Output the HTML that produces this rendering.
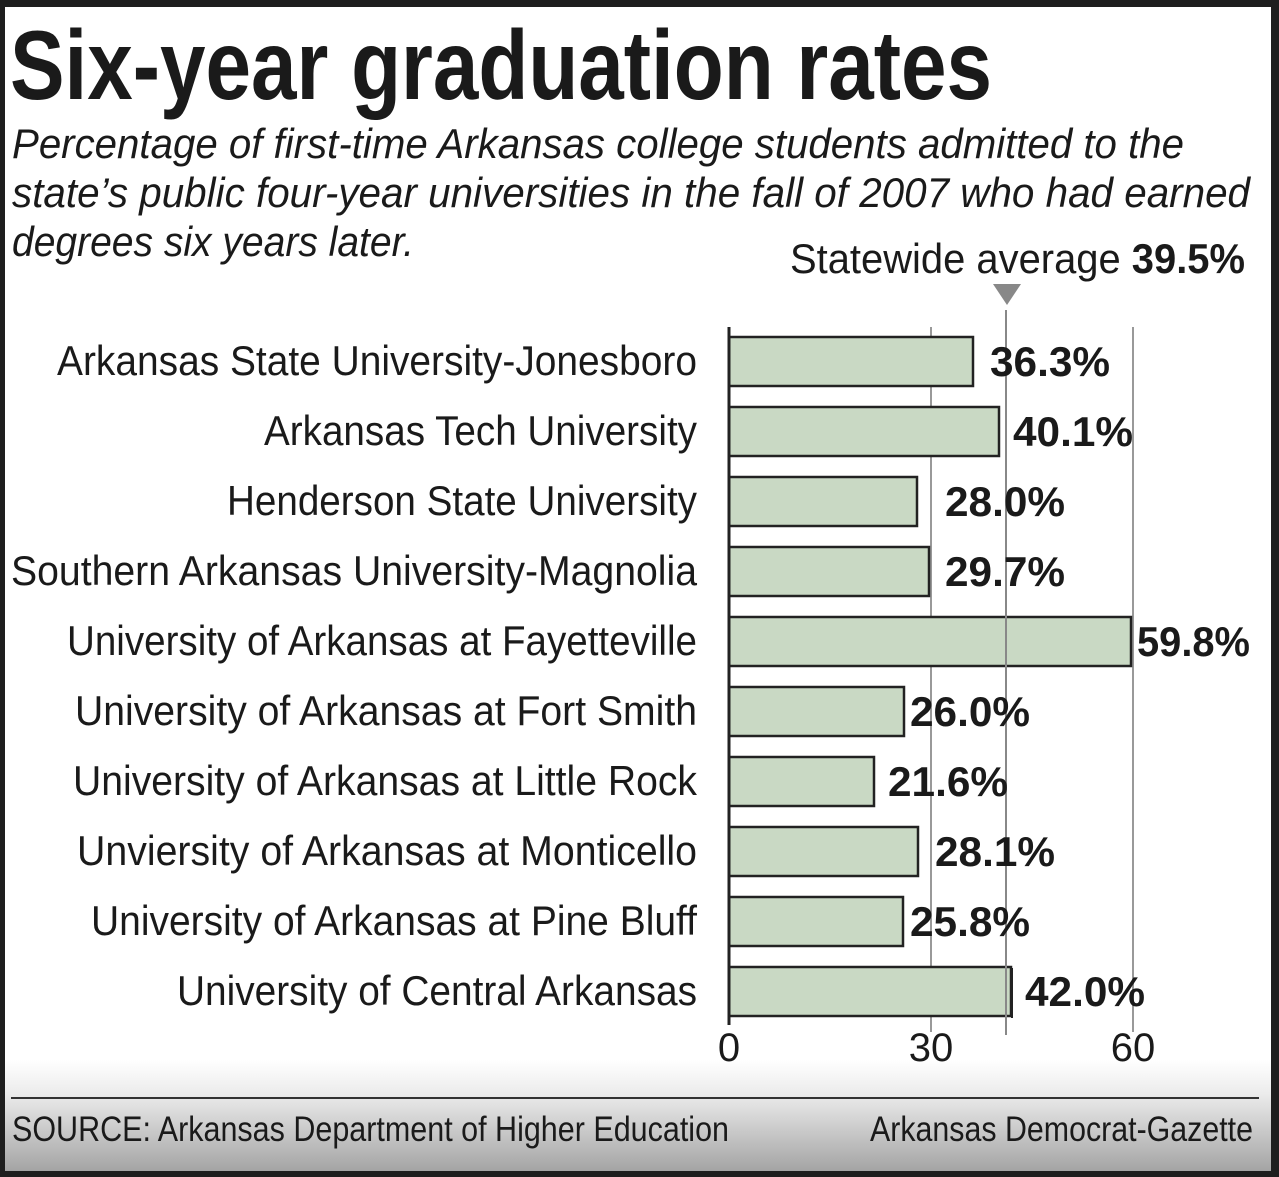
<!DOCTYPE html>
<html><head><meta charset="utf-8"><style>
html,body{margin:0;padding:0;background:#1e1e1e;}
svg{display:block}
text{font-family:"Liberation Sans",sans-serif;fill:#1a1a1a}
</style></head><body>
<svg width="1279" height="1177" viewBox="0 0 1279 1177" xmlns="http://www.w3.org/2000/svg">
<defs><linearGradient id="g" x1="0" y1="0" x2="0" y2="1">
<stop offset="0" stop-color="#fff"/><stop offset="0.3" stop-color="#ececec"/><stop offset="1" stop-color="#a4a4a4"/></linearGradient></defs>
<rect x="0" y="0" width="1279" height="1177" fill="#1e1e1e"/>
<rect x="5" y="7" width="1266" height="1164" fill="#fff"/>
<rect x="5" y="1060" width="1266" height="111" fill="url(#g)"/>
<text x="10" y="99" font-size="98" font-weight="bold" textLength="982" lengthAdjust="spacingAndGlyphs">Six-year graduation rates</text>
<g font-size="42" font-style="italic">
<text x="12" y="158" textLength="1172" lengthAdjust="spacingAndGlyphs">Percentage of first-time Arkansas college students admitted to the</text>
<text x="12" y="207" textLength="1238" lengthAdjust="spacingAndGlyphs">state’s public four-year universities in the fall of 2007 who had earned</text>
<text x="12" y="256" textLength="402" lengthAdjust="spacingAndGlyphs">degrees six years later.</text>
</g>
<text x="790" y="273" font-size="42" textLength="455" lengthAdjust="spacingAndGlyphs">Statewide average <tspan font-weight="bold">39.5%</tspan></text>
<polygon points="993,284 1021,284 1007,305" fill="#888"/>
<g stroke="#999" stroke-width="2">
<line x1="931" y1="327" x2="931" y2="1032"/>
<line x1="1133" y1="327" x2="1133" y2="1032"/>
</g>
<g fill="#c9d9c4" stroke="#222" stroke-width="2.5">
<rect x="729" y="337" width="244" height="49"/>
<rect x="729" y="407" width="270" height="49"/>
<rect x="729" y="477" width="188" height="49"/>
<rect x="729" y="547" width="200" height="49"/>
<rect x="729" y="617" width="402" height="49"/>
<rect x="729" y="687" width="175" height="49"/>
<rect x="729" y="757" width="145" height="49"/>
<rect x="729" y="827" width="189" height="49"/>
<rect x="729" y="897" width="174" height="49"/>
<rect x="729" y="967" width="282" height="49"/>
</g>
<line x1="1006" y1="310" x2="1006" y2="1035" stroke="#888" stroke-width="2"/>
<line x1="1012" y1="968" x2="1012" y2="1018" stroke="#222" stroke-width="2"/>
<line x1="729" y1="327" x2="729" y2="1025" stroke="#222" stroke-width="3"/>
<g font-size="42" text-anchor="end">
<text x="697" y="375" textLength="640" lengthAdjust="spacingAndGlyphs">Arkansas State University-Jonesboro</text>
<text x="697" y="445" textLength="433" lengthAdjust="spacingAndGlyphs">Arkansas Tech University</text>
<text x="697" y="515" textLength="470" lengthAdjust="spacingAndGlyphs">Henderson State University</text>
<text x="697" y="585" textLength="686" lengthAdjust="spacingAndGlyphs">Southern Arkansas University-Magnolia</text>
<text x="697" y="655" textLength="630" lengthAdjust="spacingAndGlyphs">University of Arkansas at Fayetteville</text>
<text x="697" y="725" textLength="622" lengthAdjust="spacingAndGlyphs">University of Arkansas at Fort Smith</text>
<text x="697" y="795" textLength="624" lengthAdjust="spacingAndGlyphs">University of Arkansas at Little Rock</text>
<text x="697" y="865" textLength="620" lengthAdjust="spacingAndGlyphs">Unviersity of Arkansas at Monticello</text>
<text x="697" y="935" textLength="606" lengthAdjust="spacingAndGlyphs">University of Arkansas at Pine Bluff</text>
<text x="697" y="1005" textLength="520" lengthAdjust="spacingAndGlyphs">University of Central Arkansas</text>
</g>
<g font-size="42" font-weight="bold">
<text x="990" y="376" textLength="120" lengthAdjust="spacingAndGlyphs">36.3%</text>
<text x="1013" y="446" textLength="120" lengthAdjust="spacingAndGlyphs">40.1%</text>
<text x="945" y="516" textLength="120" lengthAdjust="spacingAndGlyphs">28.0%</text>
<text x="945" y="586" textLength="120" lengthAdjust="spacingAndGlyphs">29.7%</text>
<text x="1137" y="656" textLength="113" lengthAdjust="spacingAndGlyphs">59.8%</text>
<text x="910" y="726" textLength="120" lengthAdjust="spacingAndGlyphs">26.0%</text>
<text x="888" y="796" textLength="120" lengthAdjust="spacingAndGlyphs">21.6%</text>
<text x="935" y="866" textLength="120" lengthAdjust="spacingAndGlyphs">28.1%</text>
<text x="910" y="936" textLength="120" lengthAdjust="spacingAndGlyphs">25.8%</text>
<text x="1025" y="1006" textLength="120" lengthAdjust="spacingAndGlyphs">42.0%</text>
</g>
<g font-size="40" text-anchor="middle">
<text x="729" y="1061">0</text>
<text x="931" y="1061">30</text>
<text x="1133" y="1061">60</text>
</g>
<line x1="11" y1="1098" x2="1259" y2="1098" stroke="#333" stroke-width="2"/>
<text x="12" y="1141" font-size="35" textLength="717" lengthAdjust="spacingAndGlyphs">SOURCE: Arkansas Department of Higher Education</text>
<text x="1253" y="1141" font-size="35" text-anchor="end" textLength="383" lengthAdjust="spacingAndGlyphs">Arkansas Democrat-Gazette</text>
</svg>
</body></html>
